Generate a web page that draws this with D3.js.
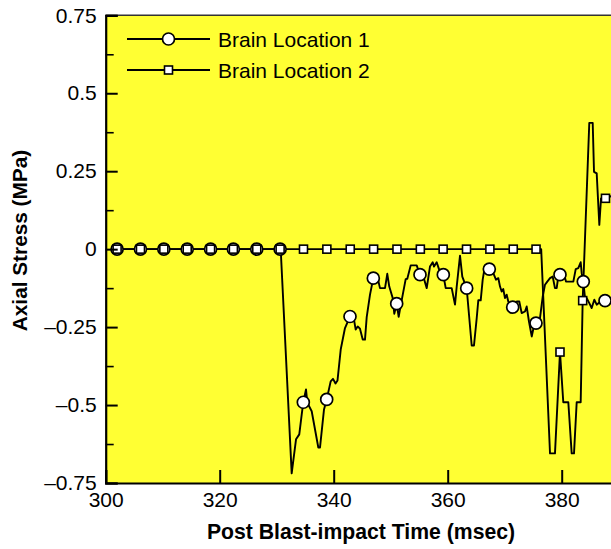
<!DOCTYPE html>
<html><head><meta charset="utf-8">
<script src="https://cdn.jsdelivr.net/npm/d3@7"></script>
<style>
html,body{margin:0;padding:0;background:#fff;}
svg{display:block;font-family:"Liberation Sans",Arial,Helvetica,sans-serif;}
</style></head>
<body>
<svg id="chart" width="611" height="549"></svg>
<script>
// ---- data ----
const seriesNames = ["Brain Location 1", "Brain Location 2"];
const xTicks = [300, 320, 340, 360, 380];
const yTicks = [-0.75, -0.5, -0.25, 0, 0.25, 0.5, 0.75];
const yTickLabels = ["\u20130.75", "\u20130.5", "\u20130.25", "0", "0.25", "0.5", "0.75"];
const yMinorTicks = [-0.625, -0.375, -0.125, 0.125, 0.375, 0.625];

// Brain Location 1 line (time msec, stress MPa)
const loc1Time = [302.0,330.70,332.63,333.39,333.96,334.39,334.67,335.14,335.37,336.14,337.30,337.60,338.30,338.77,339.47,339.88,340.32,340.67,341.23,341.98,342.86,343.56,343.86,344.21,344.61,345.09,345.49,345.79,346.37,346.95,347.65,348.12,349.00,349.40,349.75,350.35,350.63,351.05,351.40,351.75,352.63,352.91,353.51,354.56,355.14,355.72,356.32,356.89,357.37,357.60,358.07,358.47,359.23,359.65,360.70,361.28,361.58,362.16,362.56,363.33,363.61,364.21,364.61,365.09,365.37,365.79,366.14,366.54,367.30,368.00,368.47,368.88,369.18,369.47,369.75,370.05,370.35,370.63,371.40,372.11,372.56,372.98,373.56,373.86,374.26,374.74,375.02,375.49,376.19,376.67,377.07,377.47,377.95,378.42,378.82,379.12,379.40,379.70,380.28,380.75,382.04,382.46,382.91,383.33,383.51,383.79,384.09,384.39,384.84,385.26,385.72,386.14,386.60,387.02,387.60,388.65,389.5];
const loc1Stress = [0,0,-0.719,-0.610,-0.594,-0.530,-0.491,-0.450,-0.492,-0.520,-0.636,-0.636,-0.514,-0.482,-0.424,-0.416,-0.431,-0.421,-0.322,-0.253,-0.216,-0.226,-0.258,-0.248,-0.255,-0.290,-0.290,-0.218,-0.146,-0.093,-0.088,-0.125,-0.125,-0.079,-0.120,-0.157,-0.207,-0.175,-0.217,-0.181,-0.096,-0.095,-0.052,-0.052,-0.082,-0.088,-0.125,-0.056,-0.042,-0.056,-0.042,-0.064,-0.082,-0.125,-0.125,-0.178,-0.120,-0.021,-0.088,-0.125,-0.184,-0.309,-0.309,-0.221,-0.164,-0.164,-0.098,-0.053,-0.064,-0.077,-0.098,-0.093,-0.120,-0.136,-0.128,-0.157,-0.146,-0.168,-0.186,-0.168,-0.168,-0.205,-0.200,-0.184,-0.232,-0.280,-0.256,-0.237,-0.221,-0.152,-0.114,-0.104,-0.093,-0.088,-0.125,-0.125,-0.088,-0.082,-0.072,-0.104,-0.104,-0.064,-0.061,-0.042,-0.077,-0.104,-0.156,-0.157,-0.173,-0.189,-0.162,-0.178,-0.171,-0.178,-0.165,-0.172,-0.170];

// Brain Location 2 line
const loc2Time = [302.0,376.40,377.95,378.82,379.70,380.28,381.16,381.75,382.16,382.63,383.33,383.68,384.84,385.44,385.67,386.14,386.60,386.90,387.68,388.65,389.5];
const loc2Stress = [0,0,-0.655,-0.655,-0.330,-0.491,-0.491,-0.655,-0.655,-0.491,-0.491,-0.165,0.405,0.405,0.248,0.243,0.078,0.163,0.163,0.170,0.170];

// marker (symbol) positions
const loc1MarkTime = [302.0,306.1,310.2,314.3,318.4,322.4,326.5,330.6,334.67,338.77,342.86,346.95,351.05,355.14,359.23,363.33,367.30,371.40,375.49,379.70,383.79,387.60];
const loc1MarkStress = [0,0,0,0,0,0,0,0,-0.491,-0.482,-0.216,-0.093,-0.175,-0.082,-0.082,-0.125,-0.064,-0.186,-0.237,-0.082,-0.104,-0.165];
const loc2MarkTime = [302.0,306.1,310.2,314.3,318.4,322.4,326.5,330.6,334.7,338.8,342.9,347.0,351.1,355.2,359.2,363.3,367.4,371.5,375.5,379.70,383.68,387.68];
const loc2MarkStress = [0,0,0,0,0,0,0,0,0,0,0,0,0,0,0,0,0,0,0,-0.330,-0.165,0.163];

// ---- drawing ----
const svg = d3.select("#chart");
const pLeft = 105.7, pTop = 15.3, pBottom = 483.0, pRight = 675.7;
const x = d3.scaleLinear().domain([300, 400]).range([pLeft, pRight]);
const y = d3.scaleLinear().domain([-0.75, 0.75]).range([pBottom, pTop]);

svg.append("defs").append("clipPath").attr("id","plotclip")
  .append("rect").attr("x", pLeft).attr("y", pTop).attr("width", pRight-pLeft).attr("height", pBottom-pTop);

svg.append("rect").attr("x", pLeft).attr("y", pTop).attr("width", pRight-pLeft).attr("height", pBottom-pTop)
  .attr("fill", "#ffff33");

const plot = svg.append("g").attr("clip-path","url(#plotclip)");
const line = d3.line().x(d => x(d[0])).y(d => y(d[1]));
const s1 = loc1Time.map((t,i) => [t, loc1Stress[i]]);
const s2 = loc2Time.map((t,i) => [t, loc2Stress[i]]);
const m1 = loc1MarkTime.map((t,i) => [t, loc1MarkStress[i]]);
const m2 = loc2MarkTime.map((t,i) => [t, loc2MarkStress[i]]);

plot.append("path").datum(s1).attr("d", line).attr("fill","none").attr("stroke","#000").attr("stroke-width",1.9).attr("stroke-linejoin","round");
plot.append("path").datum(s2).attr("d", line).attr("fill","none").attr("stroke","#000").attr("stroke-width",1.9).attr("stroke-linejoin","round");

plot.selectAll("circle.m1").data(m1).enter().append("circle")
  .attr("cx", d => x(d[0])).attr("cy", d => y(d[1])).attr("r", 6)
  .attr("fill","#fff").attr("stroke","#000").attr("stroke-width",1.7);
plot.selectAll("rect.m2").data(m2).enter().append("rect")
  .attr("x", d => x(d[0]) - 4).attr("y", d => y(d[1]) - 4).attr("width", 8).attr("height", 8)
  .attr("fill","#fff").attr("stroke","#000").attr("stroke-width",1.6);

// frame
svg.append("line").attr("x1", pLeft).attr("x2", 611).attr("y1", pTop).attr("y2", pTop).attr("stroke","#333").attr("stroke-width",1.5);

// axes
const fontSize = 21;
const yAxis = d3.axisLeft(y).tickValues(yTicks).tickSize(-12).tickFormat((d,i) => yTickLabels[i]);
const ya = svg.append("g").attr("transform", `translate(${pLeft},0)`).call(yAxis);
ya.select(".domain").attr("stroke","#000").attr("stroke-width",2.2);
ya.selectAll(".tick line").attr("stroke","#000").attr("stroke-width",2);
ya.selectAll(".tick text").attr("x", -9).attr("font-size", fontSize).attr("fill","#000")
  .attr("font-family", '"Liberation Sans",Arial,sans-serif');
const yMinor = d3.axisLeft(y).tickValues(yMinorTicks).tickSize(-8).tickFormat("");
const ym = svg.append("g").attr("transform", `translate(${pLeft},0)`).call(yMinor);
ym.select(".domain").remove();
ym.selectAll(".tick line").attr("stroke","#000").attr("stroke-width",1.6);

const xAxis = d3.axisBottom(x).tickValues(xTicks).tickSize(-13).tickFormat(d3.format("d"));
const xa = svg.append("g").attr("transform", `translate(0,${pBottom})`).call(xAxis);
xa.select(".domain").attr("stroke","#000").attr("stroke-width",2.2);
xa.selectAll(".tick line").attr("stroke","#000").attr("stroke-width",2);
xa.selectAll(".tick text").attr("y", 9).attr("font-size", fontSize).attr("fill","#000")
  .attr("font-family", '"Liberation Sans",Arial,sans-serif');

// axis titles
svg.append("text").attr("x", 361).attr("y", 539).attr("text-anchor","middle")
  .attr("font-size", 21.2).attr("font-weight","bold").text("Post Blast-impact Time (msec)");
svg.append("text").attr("transform","translate(27,240.5) rotate(-90)").attr("text-anchor","middle")
  .attr("font-size", 20.8).attr("font-weight","bold").text("Axial Stress (MPa)");

// legend
const legend = svg.append("g");
const legRows = [{name: seriesNames[0], y: 39, sym: "circle"}, {name: seriesNames[1], y: 70, sym: "square"}];
legRows.forEach(r => {
  legend.append("line").attr("x1",127).attr("x2",210).attr("y1",r.y).attr("y2",r.y).attr("stroke","#000").attr("stroke-width",1.8);
  if (r.sym === "circle") {
    legend.append("circle").attr("cx",168.5).attr("cy",r.y).attr("r",6).attr("fill","#fff").attr("stroke","#000").attr("stroke-width",1.7);
  } else {
    legend.append("rect").attr("x",168.5-4).attr("y",r.y-4).attr("width",8).attr("height",8).attr("fill","#fff").attr("stroke","#000").attr("stroke-width",1.6);
  }
  legend.append("text").attr("x",218).attr("y",r.y+7.5).attr("font-size",21).attr("fill","#000").text(r.name);
});
</script>
</body></html>
